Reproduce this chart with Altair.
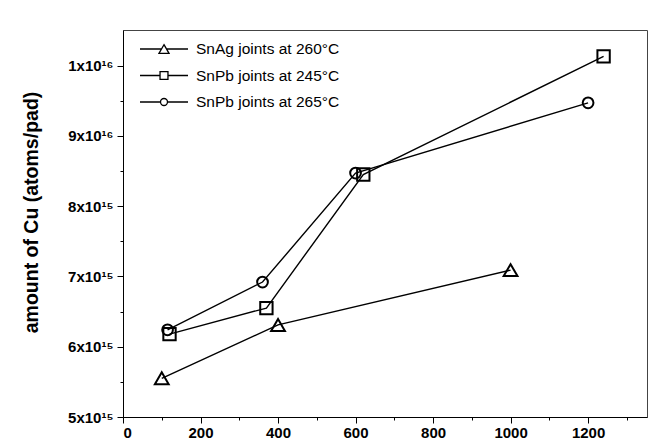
import json
import altair as alt
import pandas as pd

# ---------------- data ----------------
series_names = ["SnAg joints at 260°C", "SnPb joints at 245°C", "SnPb joints at 265°C"]

snag_time = [100, 400, 1000]
snag_cu = [5.55e15, 6.31e15, 7.09e15]

snpb245_time = [120, 370, 620, 1240]
snpb245_cu = [6.18e15, 6.55e15, 8.45e15, 1.013e16]

snpb265_time = [115, 360, 600, 1200]
snpb265_cu = [6.24e15, 6.92e15, 8.47e15, 9.47e15]

x_tick_values = [0, 100, 200, 300, 400, 500, 600, 700, 800, 900, 1000, 1100, 1200, 1300]
y_tick_values = [5.0e15, 5.5e15, 6.0e15, 6.5e15, 7.0e15, 7.5e15, 8.0e15, 8.5e15, 9.0e15, 9.5e15, 1.0e16]
y_tick_labels = ["5x10¹⁵", "6x10¹⁵", "7x10¹⁵", "8x10¹⁵", "9x10¹⁶", "1x10¹⁶"]

x_domain = [0, 1352]
y_domain = [5.0e15, 1.0506e16]

# ---------------- table ----------------
rows = []
for name, xs, ys in [
    (series_names[0], snag_time, snag_cu),
    (series_names[1], snpb245_time, snpb245_cu),
    (series_names[2], snpb265_time, snpb265_cu),
]:
    for xv, yv in zip(xs, ys):
        rows.append({"series": name, "time": xv, "cu": yv})
df = pd.DataFrame(rows)

plot_shapes = ["triangle-up", "square", "circle"]
plot_sizes = [190, 115, 100]

# legend symbols: line segment + open marker (unit coords scaled by sqrt(size)/2)
legend_paths = [
    "M-2,0H-0.21M0.21,0H2M0,-0.36L0.42,0.36L-0.42,0.36Z",
    "M-2,0H-0.33M0.33,0H2M-0.33,-0.33H0.33V0.33H-0.33Z",
    "M-2,0H-0.29M0.29,0H2M0.29,0A0.29,0.29 0 1,1 -0.29,0A0.29,0.29 0 1,1 0.29,0Z",
]

labels_js = json.dumps(y_tick_labels, ensure_ascii=False)

x_enc = alt.X(
    "time:Q",
    scale=alt.Scale(domain=x_domain, nice=False, zero=False),
    axis=alt.Axis(
        values=x_tick_values,
        format="d",
        labelExpr="datum.value % 200 == 0 ? datum.label : ''",
        tickSize={"condition": {"test": "datum.value % 200 != 0", "value": 3}, "value": 6},
        labelOverlap=False,
        labelPadding=2,
        grid=False,
    ),
    title=None,
)
y_enc = alt.Y(
    "cu:Q",
    scale=alt.Scale(domain=y_domain, nice=False, zero=False),
    axis=alt.Axis(
        values=y_tick_values,
        labelExpr=f"round(datum.value / 1e14) % 10 == 0 ? {labels_js}[round(datum.value / 1e15) - 5] : ''",
        tickSize={"condition": {"test": "round(datum.value / 1e14) % 10 != 0", "value": 3}, "value": 6},
        labelOverlap=False,
        labelPadding=4,
        grid=False,
        titleX=-92,
        titleY=182,
        titleAngle=270,
        titleBaseline="middle",
        titleFont="Liberation Sans",
        titleFontSize=19.5,
        titleFontWeight="bold",
        titleColor="black",
    ),
    title="amount of Cu (atoms/pad)",
)

base = alt.Chart(df)

lines = base.mark_line(color="black", strokeWidth=1.4).encode(
    x=x_enc, y=y_enc, detail="series:N"
)

points = base.mark_point(filled=False, color="black", strokeWidth=2, opacity=1).encode(
    x=x_enc,
    y=y_enc,
    shape=alt.Shape("series:N", scale=alt.Scale(domain=series_names, range=plot_shapes), legend=None),
    size=alt.Size("series:N", scale=alt.Scale(domain=series_names, range=plot_sizes), legend=None),
)

legend_layer = base.mark_point(filled=False, color="black", strokeWidth=1.3, opacity=1).encode(
    x=x_enc,
    y=y_enc,
    shape=alt.Shape(
        "series:N",
        scale=alt.Scale(domain=series_names, range=legend_paths),
        legend=alt.Legend(
            title=None,
            orient="none",
            legendX=28,
            legendY=6,
            padding=0,
            symbolSize=576,
            symbolStrokeWidth=1.3,
            symbolStrokeColor="black",
            symbolFillColor="transparent",
            labelOffset=19,
            labelFont="Liberation Sans",
            labelFontSize=15.5,
            labelColor="black",
            rowPadding=4.5,
        ),
    ),
).transform_filter("false")

chart = (
    alt.layer(lines, points, legend_layer)
    .resolve_scale(shape="independent")
    .properties(
        width=524,
        height=387,
        autosize=alt.AutoSizeParams(type="none"),
        padding={"left": 123, "top": 30, "right": 4, "bottom": 28},
    )
    .configure_view(stroke="#444", strokeWidth=1)
    .configure_axis(
        domainColor="black",
        tickColor="black",
        labelColor="black",
        labelFont="Liberation Sans",
        labelFontWeight="bold",
        labelFontSize=15,
    )
)

chart.save("out.html", embed_options={"renderer": "svg", "actions": False})
